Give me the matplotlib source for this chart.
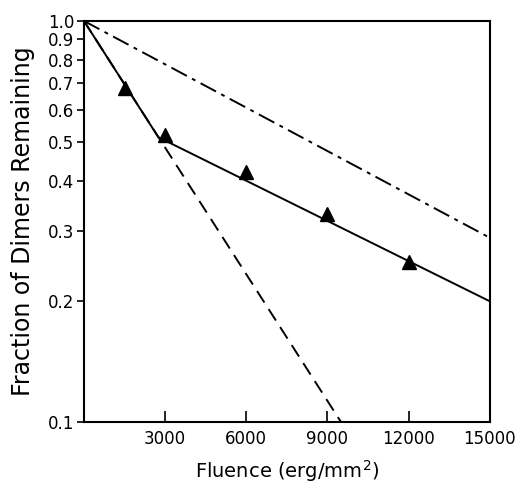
import matplotlib
matplotlib.use("Agg")
import matplotlib.pyplot as plt
from matplotlib.ticker import FixedLocator, NullLocator

# measured points (triangles)
fluence_pts = [1500, 3000, 6000, 9000, 12000]
fraction_pts = [0.68, 0.52, 0.42, 0.33, 0.25]

# fitted lines
solid_x = [0, 2750, 15000]
solid_y = [1.0, 0.513, 0.2]
dashed_x = [0, 9500]
dashed_y = [1.0, 0.1]
dashdot_x = [0, 15000]
dashdot_y = [1.0, 0.288]

x_ticks = [3000, 6000, 9000, 12000, 15000]
y_ticks = [0.1, 0.2, 0.3, 0.4, 0.5, 0.6, 0.7, 0.8, 0.9, 1.0]
y_labels = ["0.1", "0.2", "0.3", "0.4", "0.5", "0.6", "0.7", "0.8", "0.9", "1.0"]

fig = plt.figure(figsize=(5.15, 4.87), dpi=100)
ax = fig.add_axes([0.163, 0.1335, 0.788, 0.8235])

ax.plot(solid_x, solid_y, color="black", lw=1.4)
ax.plot(dashed_x, dashed_y, color="black", lw=1.4, ls=(0, (7, 4)))
ax.plot(dashdot_x, dashdot_y, color="black", lw=1.4, ls=(0, (9, 3, 2, 3)))
ax.plot(fluence_pts, fraction_pts, ls="none", marker="^", color="black", ms=10)

ax.set_yscale("log")
ax.set_xlim(0, 15000)
ax.set_ylim(0.1, 1.0)

ax.xaxis.set_major_locator(FixedLocator(x_ticks))
ax.set_xticklabels([str(v) for v in x_ticks])
ax.yaxis.set_major_locator(FixedLocator(y_ticks))
ax.yaxis.set_minor_locator(NullLocator())
ax.set_yticklabels(y_labels)

ax.tick_params(axis="x", direction="in", length=8, width=1.2, labelsize=12, pad=6)
ax.tick_params(axis="y", direction="out", length=5, width=1.2, labelsize=12, pad=2)
for spine in ax.spines.values():
    spine.set_linewidth(1.5)

ax.set_xlabel("Fluence (erg/mm$^2$)", fontsize=14, labelpad=7)
ax.set_ylabel("Fraction of Dimers Remaining", fontsize=17, labelpad=9)

fig.savefig("out.png", dpi=100)
